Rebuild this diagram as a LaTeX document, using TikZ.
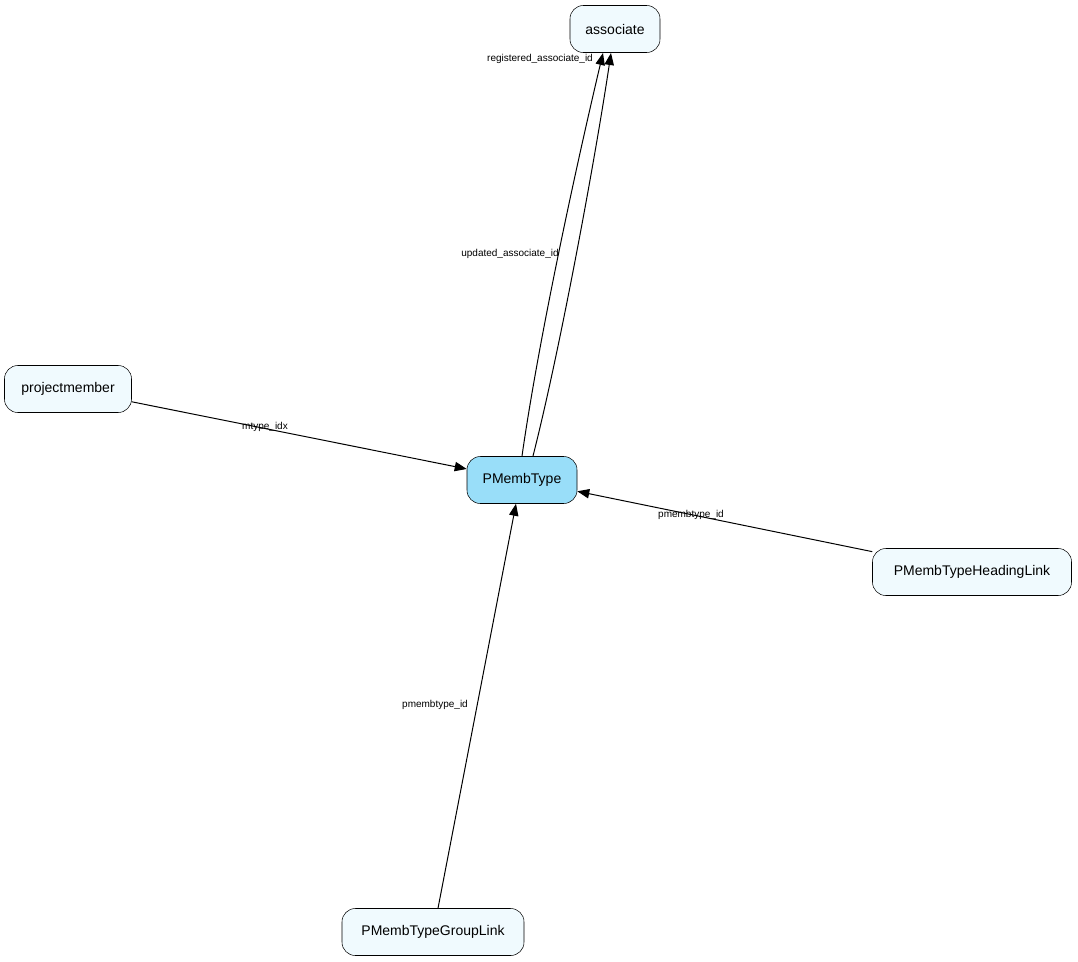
\documentclass[tikz,border=0pt]{standalone}
\usepackage{fontspec}
\setmainfont{Liberation Sans}
\usetikzlibrary{arrows.meta}
\begin{document}
\begin{tikzpicture}[x=0.75pt,y=-0.75pt,
  tbl/.style={draw,rounded corners=10pt,fill=cyan!6,minimum height=35.25pt,inner sep=0pt,font=\fontsize{10.5}{12}\selectfont},
  edge/.style={-{Triangle[length=9pt,width=7pt]},line width=0.75pt},
  lbl/.style={font=\fontsize{7.5}{9}\selectfont,inner sep=1pt}]
\useasboundingbox (0,0) rectangle (1078,961);
\node[tbl,minimum width=67.5pt] (assoc) at (615,29) {associate};
\node[tbl,minimum width=82.5pt,fill=cyan!40] (pmt) at (522,480) {PMembType};
\node[tbl,minimum width=95.25pt] (pm) at (68,389) {projectmember};
\node[tbl,minimum width=149.25pt] (hl) at (972,572) {PMembTypeHeadingLink};
\node[tbl,minimum width=136.5pt] (gl) at (433,932) {PMembTypeGroupLink};
\coordinate (a1) at (603,53);
\coordinate (a2) at (611,53);
\coordinate (p1) at (522,456);
\coordinate (p2) at (533,456);
\draw[edge] (p1) .. controls (540,330) and (580,150) .. (a1);
\draw[edge] (p2) .. controls (560,350) and (595,160) .. (a2);
\node[lbl] at (540,59) {registered\_associate\_id};
\node[lbl] at (510,254) {updated\_associate\_id};
\draw[edge] (pm) -- (pmt);
\node[lbl] at (265,427) {mtype\_idx};
\draw[edge] (hl) -- (pmt);
\node[lbl] at (691,515) {pmembtype\_id};
\draw[edge] (gl.north) ++(5,0) coordinate (g0) -- (pmt.south -| 516,0);
\node[lbl] at (435,705) {pmembtype\_id};
\end{tikzpicture}
\end{document}
